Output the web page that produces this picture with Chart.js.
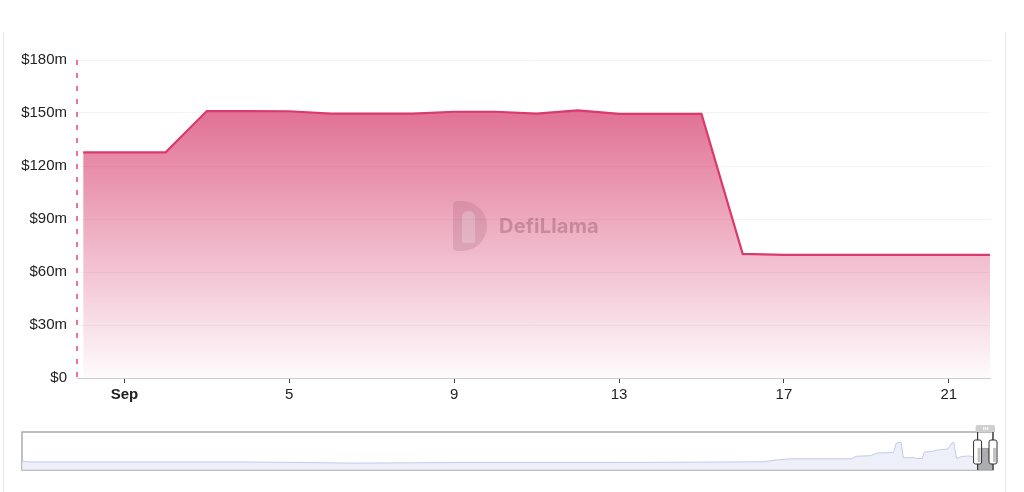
<!DOCTYPE html>
<html>
<head>
<meta charset="utf-8">
<script src="https://cdn.jsdelivr.net/npm/chart.js@4.4.1/dist/chart.umd.min.js"></script>
<style>
  html, body { margin: 0; padding: 0; background: #fff; width: 1024px; height: 492px; overflow: hidden; font-family: "Liberation Sans", Arial, sans-serif; }
  #card { position: absolute; left: 3px; top: 32px; width: 1001px; height: 470px; border-left: 1px solid #e8e8e8; border-right: 1px solid #e8e8e8; }
  #main { position: absolute; left: 0; top: 0; width: 1024px; height: 420px; }
  #nav { position: absolute; left: 0; top: 416px; width: 1024px; height: 58px; }
  #wm { position: absolute; left: 453px; top: 201px; height: 50px; display: flex; align-items: center; pointer-events: none; }
  #logo { width: 34px; height: 50px; border-radius: 4px 25px 25px 4px; background: rgba(120,60,85,0.16); position: relative; margin-right: 12px; }
  #logo::after { content: ""; position: absolute; left: 9px; top: 10px; width: 13px; height: 32px; border-radius: 6px 6px 2px 2px; background: rgba(255,255,255,0.22); }
  #wmtext { font-family: "Inter", "Liberation Sans", sans-serif; font-weight: 700; font-size: 20px; color: rgba(90,30,55,0.26); letter-spacing: 0.2px; }
</style>
</head>
<body>
<div id="card"></div>
<div id="main"><canvas id="c1"></canvas></div>
<div id="nav"><canvas id="c2"></canvas></div>
<div id="wm"><div id="logo"></div><div id="wmtext">DefiLlama</div></div>
<script>
// ---- main series (Aug 31 .. Sep 22), $m ----
const dates = ["Aug 31","Sep 1","Sep 2","Sep 3","Sep 4","Sep 5","Sep 6","Sep 7","Sep 8","Sep 9","Sep 10","Sep 11","Sep 12","Sep 13","Sep 14","Sep 15","Sep 16","Sep 17","Sep 18","Sep 19","Sep 20","Sep 21","Sep 22"];
const tvlValues = [127.7,127.7,127.7,151.1,151.1,151.0,149.6,149.6,149.6,150.7,150.7,149.6,151.5,149.5,149.5,149.5,70.3,69.7,69.7,69.7,69.7,69.7,69.7];
// x tick positions (day index) and labels
const xTickIndex = [1,5,9,13,17,21];
const xTickLabels = ["Sep","5","9","13","17","21"];
// y ticks
const yTickValues = [0,30,60,90,120,150,180];
const yTickLabels = ["$0","$30m","$60m","$90m","$120m","$150m","$180m"];

// ---- navigator history (days since start, $m), before the main window ----
const historyDays = [0,11,326,476,626,826,969,1057,1076,1097,1183,1190,1211,1219,1243,1247,1254,1257,1273,1276,1284,1287,1297,1307,1321,1326,1329,1333,1340,1351,1357];
const historyValues = [62,56,56,48,52,52,55,57,70,78,78,96,100,118,122,188,192,86,86,80,80,125,129,140,147,188,192,80,94,98,90];
const windowStartDay = 1363;

const LINE = '#DA3A6C';

const mainPoints = tvlValues.map((v, i) => ({ x: i, y: v }));

const dashPlugin = {
  id: 'dashLine',
  afterDatasetsDraw(chart) {
    const { ctx, chartArea } = chart;
    ctx.save();
    ctx.strokeStyle = '#E8467A';
    ctx.lineWidth = 1.5;
    ctx.setLineDash([5, 8]);
    ctx.beginPath();
    ctx.moveTo(chartArea.left, chartArea.top);
    ctx.lineTo(chartArea.left, chartArea.bottom);
    ctx.stroke();
    ctx.restore();
  }
};

new Chart(document.getElementById('c1'), {
  type: 'line',
  data: {
    datasets: [{
      data: mainPoints,
      borderColor: LINE,
      borderWidth: 2.2,
      pointRadius: 0,
      tension: 0,
      fill: 'origin',
      backgroundColor(ctx) {
        const chart = ctx.chart;
        const ca = chart.chartArea;
        if (!ca) return 'rgba(214,58,108,0.4)';
        const ys = chart.scales.y;
        const top = ys.getPixelForValue(Math.max(...tvlValues));
        const g = chart.ctx.createLinearGradient(0, top, 0, ca.bottom);
        g.addColorStop(0, 'rgba(214,58,108,0.72)');
        g.addColorStop(1, 'rgba(214,58,108,0.02)');
        return g;
      }
    }]
  },
  options: {
    responsive: true,
    maintainAspectRatio: false,
    animation: false,
    devicePixelRatio: 1,
    layout: { padding: { top: 60, bottom: 10, left: 0, right: 34 } },
    plugins: { legend: { display: false }, tooltip: { enabled: false } },
    scales: {
      x: {
        type: 'linear',
        min: -0.15,
        max: dates.length - 1,
        afterFit(s) { s.height = 32; },
        afterBuildTicks(s) { s.ticks = xTickIndex.map(v => ({ value: v })); },
        border: { display: true, color: '#cccccc', width: 1 },
        grid: { display: true, drawOnChartArea: false, drawTicks: true, tickLength: 5, color: '#444' },
        ticks: {
          autoSkip: false, maxRotation: 0, padding: 3, color: '#222',
          callback(v) { const i = xTickIndex.indexOf(v); return i >= 0 ? xTickLabels[i] : ''; },
          font(ctx) {
            const lbl = ctx.tick ? xTickLabels[xTickIndex.indexOf(ctx.tick.value)] : '';
            return { family: '"Liberation Sans", Arial, sans-serif', size: 15, weight: lbl === 'Sep' ? 'bold' : 'normal' };
          }
        }
      },
      y: {
        min: 0, max: 180,
        afterFit(s) { s.width = 77; },
        afterBuildTicks(s) { s.ticks = yTickValues.map(v => ({ value: v })); },
        border: { display: false },
        grid: { color: '#f4f4f4', drawTicks: false, lineWidth: 1 },
        ticks: {
          padding: 10, color: '#222',
          font: { family: '"Liberation Sans", Arial, sans-serif', size: 15 },
          callback(v) { const i = yTickValues.indexOf(v); return i >= 0 ? yTickLabels[i] : ''; }
        }
      }
    }
  },
  plugins: [dashPlugin]
});

// ---- navigator ----
const navPoints = historyDays.map((d, i) => ({ x: d, y: historyValues[i] }))
  .concat(tvlValues.map((v, i) => ({ x: windowStartDay + i, y: v })));
const selPoints = tvlValues.map((v, i) => ({ x: windowStartDay + i, y: v }));
const lastDay = windowStartDay + tvlValues.length - 1;

const navPlugin = {
  id: 'navDecor',
  beforeDatasetsDraw(chart) {
    const { ctx, chartArea: ca } = chart;
    ctx.save();
    ctx.strokeStyle = '#aaaaaa';
    ctx.lineWidth = 1.5;
    ctx.strokeRect(ca.left, ca.top, ca.right - ca.left, ca.bottom - ca.top);
    ctx.restore();
  },
  afterDatasetsDraw(chart) {
    const { ctx, chartArea: ca, scales } = chart;
    const x0 = scales.x.getPixelForValue(windowStartDay);
    const x1 = scales.x.getPixelForValue(lastDay);
    ctx.save();
    // tab above
    ctx.fillStyle = '#cfcfcf';
    ctx.beginPath();
    ctx.roundRect(x0 - 2, ca.top - 7, (x1 - x0) + 4, 7, [2, 2, 0, 0]);
    ctx.fill();
    ctx.strokeStyle = '#ffffff';
    ctx.lineWidth = 1;
    const mid = (x0 + x1) / 2;
    [-2, 0, 2].forEach(o => {
      ctx.beginPath(); ctx.moveTo(mid + o + 0.5, ca.top - 5); ctx.lineTo(mid + o + 0.5, ca.top - 2); ctx.stroke();
    });
    // vertical handle lines
    ctx.strokeStyle = '#333';
    ctx.lineWidth = 1.2;
    [x0, x1].forEach(x => {
      ctx.beginPath(); ctx.moveTo(x, ca.top); ctx.lineTo(x, ca.bottom); ctx.stroke();
    });
    // handles
    [x0, x1].forEach(x => {
      ctx.fillStyle = '#ffffff';
      ctx.beginPath();
      ctx.roundRect(x - 4, ca.top + 8, 8, 24, 2);
      ctx.fill();
      ctx.fillStyle = '#c4c4c4';
      ctx.fillRect(x, ca.top + 16, 3, 14);
      ctx.strokeStyle = '#333';
      ctx.lineWidth = 1;
      ctx.beginPath();
      ctx.roundRect(x - 4, ca.top + 8, 8, 24, 2);
      ctx.stroke();
    });
    ctx.restore();
  }
};

new Chart(document.getElementById('c2'), {
  type: 'line',
  data: {
    datasets: [
      {
        data: selPoints,
        borderColor: '#9a9a9a',
        borderWidth: 1,
        pointRadius: 0,
        fill: 'origin',
        backgroundColor: 'rgba(120,120,120,0.55)'
      },
      {
        data: navPoints,
        borderColor: '#c3c9ea',
        borderWidth: 1,
        pointRadius: 0,
        tension: 0,
        fill: 'origin',
        backgroundColor: 'rgba(232,235,247,0.75)'
      }
    ]
  },
  options: {
    responsive: true,
    maintainAspectRatio: false,
    animation: false,
    devicePixelRatio: 1,
    layout: { padding: { top: 16, bottom: 4, left: 22, right: 31 } },
    plugins: { legend: { display: false }, tooltip: { enabled: false } },
    scales: {
      x: { type: 'linear', display: false, min: 0, max: lastDay },
      y: { display: false, min: 0, max: 265 }
    }
  },
  plugins: [navPlugin]
});
</script>
</body>
</html>
